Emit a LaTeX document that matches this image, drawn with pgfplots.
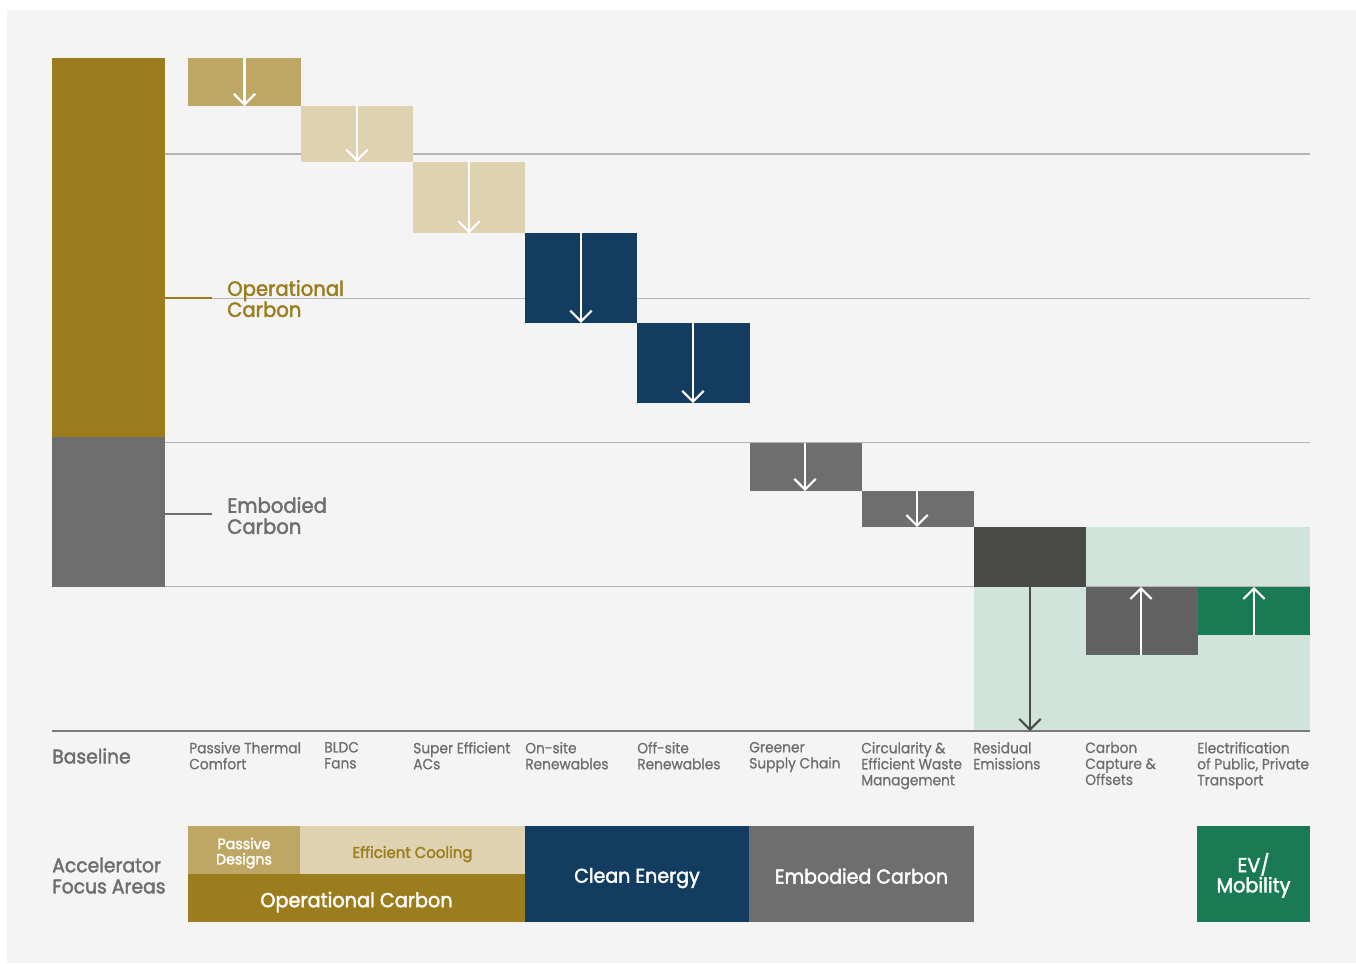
\documentclass[border=0pt]{standalone}
\usepackage{pgfplots}
\pgfplotsset{compat=1.18}
\usepackage{fontspec}
\setmainfont{Poppins}[FakeStretch=0.93, FakeBold=0.8]
\newfontfamily\demi{Poppins}[FakeStretch=0.95, FakeBold=2]
\usetikzlibrary{arrows.meta}

\definecolor{bg}{HTML}{F4F4F4}
\definecolor{gold}{HTML}{9C7D1D}
\definecolor{tan}{HTML}{BEA665}
\definecolor{lighttan}{HTML}{DFD2B0}
\definecolor{navy}{HTML}{123C60}
\definecolor{slate}{HTML}{6D6E6D}
\definecolor{darkslate}{HTML}{4A4A48}
\definecolor{midslate}{HTML}{626262}
\definecolor{green}{HTML}{1A7A53}
\definecolor{lightgreen}{HTML}{D1E4DC}
\definecolor{gridgray}{HTML}{B4B4B4}
\definecolor{basegray}{HTML}{7A7A7A}

% one floating block: x-left, x-right, bottom, top, colour
\newcommand{\block}[5]{%
  \addplot[fill=#5, draw=none, forget plot] coordinates {(#1,#3) (#2,#3) (#2,#4) (#1,#4)} -- cycle;}
% arrow showing the change of one step: x, from, to, colour
\newcommand{\step}[4]{%
  \addplot[#4, line width=1.6pt, forget plot,
    -{Straight Barb[length=8pt, width=16pt, line width=1.6pt]}]
    coordinates {(#1,#2) (#1,#3)};}

\begin{document}
\begin{tikzpicture}
\begin{axis}[
  scale only axis, width=1017pt, height=722.25pt,
  xmin=0, xmax=1356, ymin=-160.8, ymax=506.8,
  axis x line=middle, axis y line=none,
  axis line style={draw=none},
  axis on top,
  ytick=\empty,
  major tick length=0pt,
  xtick={189,324,413,525,637,749,861,973,1085,1197},
  xticklabels={{Passive Thermal\\Comfort},{BLDC\\Fans},{Super Efficient\\ACs},
    {On-site\\Renewables},{Off-site\\Renewables},{Greener\\Supply Chain},
    {Circularity \&\\Efficient Waste\\Management},{Residual\\Emissions},
    {Carbon\\Capture \&\\Offsets},{Electrification\\of Public, Private\\Transport}},
  xticklabel style={anchor=north west, align=left, inner sep=0pt, yshift=-8pt,
    font=\fontsize{11.1}{12}\selectfont, text=slate},
  clip=false,
]
% page and panel
\fill[white] (axis cs:0,-160.8) rectangle (axis cs:1356,506.8);
\fill[bg] (axis cs:7,-160.8) rectangle (axis cs:1356,499.8);

% offset zone behind the last three steps
\block{974}{1310}{0}{141.5}{lightgreen}

% reference lines
\foreach \g in {100,200,300,400}{
  \edef\tmp{\noexpand\draw[gridgray, line width=1pt] (axis cs:165,\g) -- (axis cs:1310,\g);}\tmp}
\draw[gridgray, line width=1pt] (axis cs:52,100) -- (axis cs:165,100);
\draw[basegray, line width=1.6pt] (axis cs:52,0) -- (axis cs:1310,0);

% baseline emissions
\block{52}{165}{204}{466.6}{gold}
\block{52}{165}{100}{204}{slate}
\draw[gold, line width=1.6pt] (axis cs:165,300.2) -- (axis cs:212,300.2);
\draw[slate, line width=1.6pt] (axis cs:165,150.4) -- (axis cs:212,150.4);

% reduction steps
\block{188}{301}{433.3}{466.6}{tan}
\block{301}{413}{394.5}{433.3}{lighttan}
\block{413}{525}{345.0}{394.5}{lighttan}
\block{525}{637}{283.0}{345.0}{navy}
\block{637}{750}{227.4}{283.0}{navy}
\block{750}{862}{166.4}{200.0}{slate}
\block{862}{974}{141.4}{166.4}{slate}
\block{974}{1086}{100.0}{141.4}{darkslate}
\block{1086}{1198}{52.7}{100.0}{midslate}
\block{1198}{1310}{66.6}{100.0}{green}

\step{244.5}{466.6}{433.3}{white}
\step{357}{433.3}{394.5}{white}
\step{469}{394.5}{345.0}{white}
\step{581}{345.0}{283.0}{white}
\step{693}{283.0}{227.4}{white}
\step{805}{200.0}{166.4}{white}
\step{917}{166.4}{141.4}{white}
\step{1030}{100.0}{0}{darkslate}
\step{1141}{52.7}{100.0}{white}
\step{1254}{66.6}{100.0}{white}

% labels
\node[anchor=west, align=left, text=gold, font=\demi\fontsize{15.5}{15.8}\selectfont, inner sep=0pt]
  at (axis cs:227,299.8) {Operational\\Carbon};
\node[anchor=west, align=left, text=slate, font=\demi\fontsize{15.5}{15.8}\selectfont, inner sep=0pt]
  at (axis cs:227,149.4) {Embodied\\Carbon};
\node[anchor=west, text=slate, font=\demi\fontsize{14.8}{15}\selectfont, inner sep=0pt]
  at (axis cs:52,-17.3) {Baseline};
\node[anchor=west, align=left, text=slate, font=\demi\fontsize{14.8}{15.8}\selectfont, inner sep=0pt]
  at (axis cs:52,-100.2) {Accelerator\\Focus Areas};

% accelerator focus areas
\fill[tan] (axis cs:188,-99.1) rectangle (axis cs:300,-65.9);
\fill[lighttan] (axis cs:300,-99.1) rectangle (axis cs:525,-65.9);
\fill[gold] (axis cs:188,-132.4) rectangle (axis cs:525,-99.1);
\fill[navy] (axis cs:525,-132.4) rectangle (axis cs:749,-65.9);
\fill[slate] (axis cs:749,-132.4) rectangle (axis cs:974,-65.9);
\fill[green] (axis cs:1197,-132.4) rectangle (axis cs:1310,-65.9);

\node[align=center, text=white, font=\demi\fontsize{11.2}{11.5}\selectfont]
  at (axis cs:244,-84.6) {Passive\\Designs};
\node[text=gold, font=\demi\fontsize{11.8}{12}\selectfont]
  at (axis cs:412.5,-85.3) {Efficient Cooling};
\node[text=white, font=\demi\fontsize{15.2}{15}\selectfont]
  at (axis cs:356.5,-118.6) {Operational Carbon};
\node[text=white, font=\demi\fontsize{15}{15}\selectfont]
  at (axis cs:637,-101.9) {Clean Energy};
\node[text=white, font=\demi\fontsize{15}{15}\selectfont]
  at (axis cs:861.5,-100.5) {Embodied Carbon};
\node[align=center, text=white, font=\demi\fontsize{15.2}{12.8}\selectfont]
  at (axis cs:1253.5,-100) {EV/\\Mobility};
\end{axis}
\end{tikzpicture}
\end{document}
